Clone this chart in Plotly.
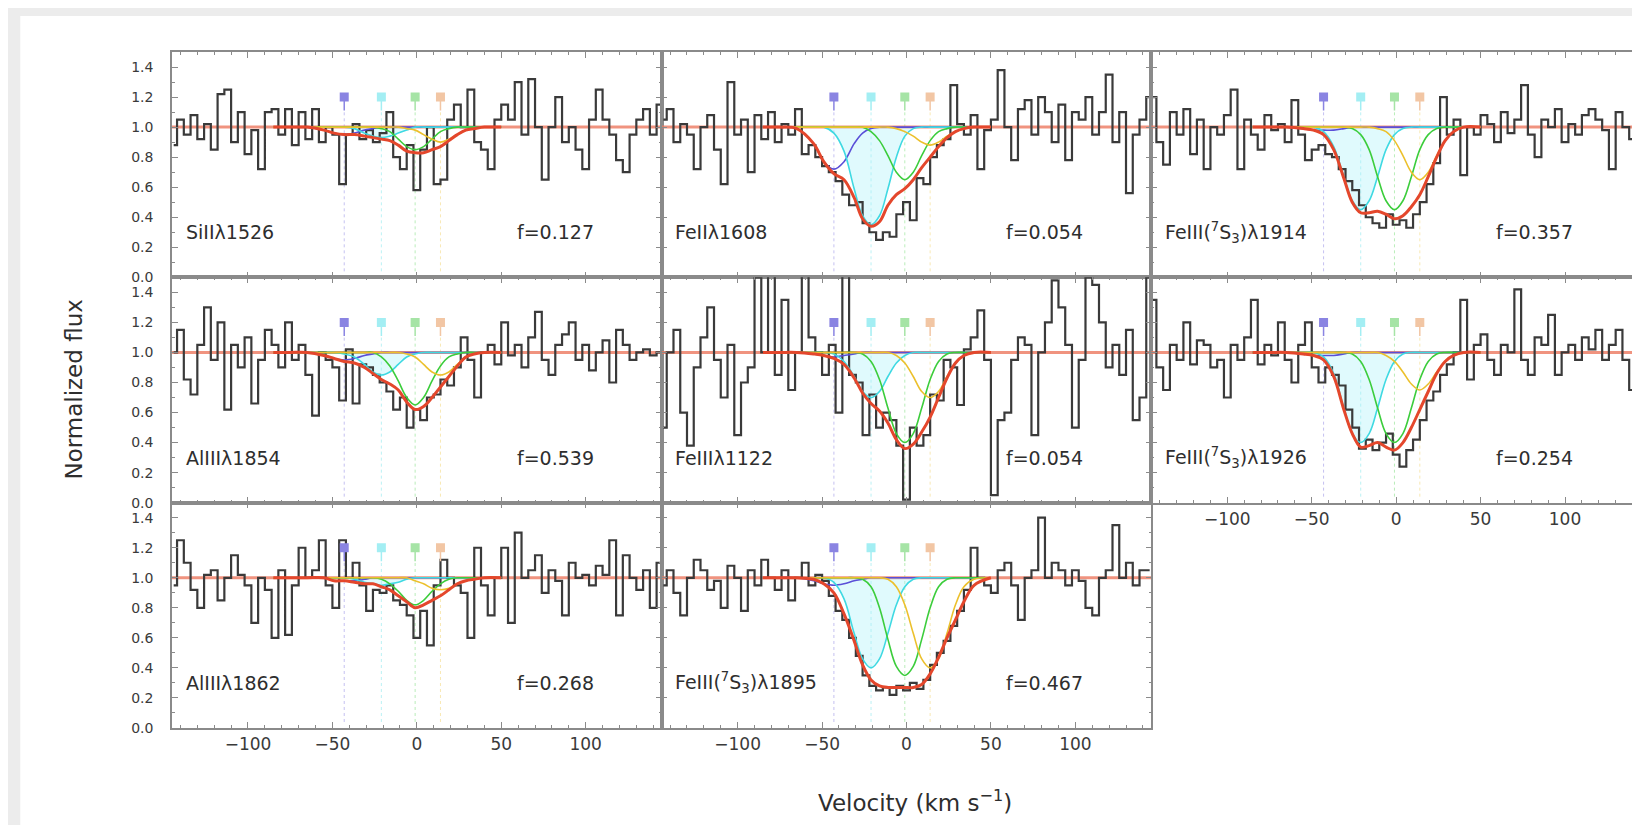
import plotly.graph_objects as go
from plotly.subplots import make_subplots

# ---------------- data ----------------
VEL = [-144, -140, -136, -132, -128, -124, -120, -116, -112, -108,
       -104, -100, -96, -92, -88, -84, -80, -76, -72, -68,
       -64, -60, -56, -52, -48, -44, -40, -36, -32, -28,
       -24, -20, -16, -12, -8, -4, 0, 4, 8, 12,
       16, 20, 24, 28, 32, 36, 40, 44, 48, 52,
       56, 60, 64, 68, 72, 76, 80, 84, 88, 92,
       96, 100, 104, 108, 112, 116, 120, 124, 128, 132,
       136, 140, 144]

MODEL_V = [-85, -75, -65, -55, -49, -43, -37, -31, -26, -21, -16, -11,
           -6, -1, 4, 9, 14, 19, 24, 29, 34, 40, 50]

COMP_V = [-43, -21, -1, 14]
MARKER_Y = 1.2
STEM_LEN = 0.09
CONT_LEVEL = 1.0

LABELS = ["SiIIλ1526", "FeIIλ1608", "FeIII(<sup>7</sup>S<sub>3</sub>)λ1914",
          "AlIIIλ1854", "FeIIIλ1122", "FeIII(<sup>7</sup>S<sub>3</sub>)λ1926",
          "AlIIIλ1862", "FeIII(<sup>7</sup>S<sub>3</sub>)λ1895"]
F_TEXT = ["f=0.127", "f=0.054", "f=0.357", "f=0.539", "f=0.054", "f=0.254",
          "f=0.268", "f=0.467"]

X_TICKS = [-100, -50, 0, 50, 100]
Y_TICKS = [0.0, 0.2, 0.4, 0.6, 0.8, 1.0, 1.2, 1.4]

# --- SiII 1526 ---
SI1526_FLUX = [0.88, 1.05, 0.95, 1.08, 0.92, 1.02, 0.85, 1.22, 1.25, 0.90,
               1.10, 0.82, 0.98, 0.72, 1.10, 1.12, 0.95, 1.12, 0.88, 1.10,
               0.92, 1.12, 0.90, 1.00, 0.95, 0.62, 0.95, 1.02, 0.92, 0.98,
               0.90, 0.96, 1.10, 0.80, 0.72, 0.88, 0.58, 0.85, 1.00, 0.62,
               0.65, 1.05, 1.15, 1.00, 1.25, 0.90, 0.85, 0.72, 1.05, 1.15,
               1.05, 1.30, 0.95, 1.32, 1.00, 0.65, 1.00, 1.20, 0.90, 1.00,
               0.85, 0.72, 1.05, 1.25, 1.05, 0.95, 0.78, 0.70, 0.95, 1.05,
               1.12, 0.95, 1.15]
SI1526_FIT = [1, 1, 1, 0.98, 0.96, 0.95, 0.95, 0.94, 0.93, 0.92, 0.91, 0.88,
              0.84, 0.83, 0.83, 0.85, 0.87, 0.91, 0.95, 0.98, 0.99, 1, 1]
SI1526_A = [1, 1, 1, 0.98, 0.96, 0.95, 0.96, 0.98, 0.99, 1, 1, 1,
            1, 1, 1, 1, 1, 1, 1, 1, 1, 1, 1]
SI1526_B = [1, 1, 1, 1, 1, 1, 0.99, 0.96, 0.94, 0.93, 0.94, 0.96,
            0.98, 1, 1, 1, 1, 1, 1, 1, 1, 1, 1]
SI1526_C = [1, 1, 1, 1, 1, 1, 1, 1, 1, 0.99, 0.97, 0.92,
            0.87, 0.85, 0.87, 0.92, 0.97, 0.99, 1, 1, 1, 1, 1]
SI1526_D = [1, 1, 1, 1, 1, 1, 1, 1, 1, 1, 1, 1,
            0.99, 0.98, 0.95, 0.92, 0.90, 0.92, 0.95, 0.98, 0.99, 1, 1]

# --- FeII 1608 ---
FE1608_FLUX = [1.05, 1.12, 0.90, 1.02, 0.95, 0.72, 1.00, 1.08, 0.85, 0.62,
               1.30, 0.95, 1.05, 0.70, 1.08, 0.92, 1.10, 0.90, 1.02, 0.95,
               1.12, 0.82, 0.88, 0.80, 0.74, 0.70, 0.64, 0.55, 0.48, 0.50,
               0.36, 0.30, 0.25, 0.30, 0.27, 0.42, 0.50, 0.38, 0.66, 0.62,
               0.80, 0.88, 0.92, 1.28, 1.02, 0.95, 1.08, 0.72, 0.98, 1.05,
               1.38, 1.00, 0.78, 1.12, 1.18, 0.95, 1.20, 1.10, 0.90, 1.15,
               0.78, 1.10, 1.05, 1.20, 0.95, 1.10, 1.35, 0.90, 1.10, 0.56,
               0.95, 1.05, 1.20]
FE1608_FIT = [1, 1, 0.99, 0.89, 0.77, 0.69, 0.65, 0.53, 0.39, 0.34, 0.37, 0.48,
              0.55, 0.59, 0.65, 0.73, 0.80, 0.87, 0.93, 0.97, 0.99, 1, 1]
FE1608_A = [1, 1, 0.99, 0.89, 0.77, 0.72, 0.77, 0.89, 0.96, 0.99, 1, 1,
            1, 1, 1, 1, 1, 1, 1, 1, 1, 1, 1]
FE1608_B = [1, 1, 1, 1, 1, 0.96, 0.84, 0.59, 0.41, 0.35, 0.41, 0.59,
            0.80, 0.94, 0.99, 1, 1, 1, 1, 1, 1, 1, 1]
FE1608_C = [1, 1, 1, 1, 1, 1, 1, 1, 1, 0.97, 0.91, 0.81,
            0.70, 0.65, 0.70, 0.81, 0.91, 0.97, 0.99, 1, 1, 1, 1]
FE1608_D = [1, 1, 1, 1, 1, 1, 1, 1, 1, 1, 1, 1,
            0.99, 0.97, 0.94, 0.90, 0.88, 0.90, 0.94, 0.97, 0.99, 1, 1]

# --- FeIII(7S3) 1914 ---
FE1914_FLUX = [1.20, 0.90, 0.75, 1.10, 0.95, 1.12, 0.82, 1.05, 0.72, 1.00,
               0.95, 1.08, 1.25, 0.72, 1.05, 0.95, 0.85, 1.08, 0.98, 1.02,
               0.90, 1.18, 0.95, 0.78, 0.85, 0.88, 0.82, 0.80, 0.72, 0.64,
               0.58, 0.48, 0.40, 0.36, 0.33, 0.42, 0.35, 0.38, 0.33, 0.42,
               0.50, 0.62, 0.76, 1.20, 0.95, 1.05, 0.68, 1.00, 0.95, 1.08,
               1.02, 0.90, 1.10, 0.96, 1.05, 1.28, 0.95, 0.80, 1.05, 1.00,
               1.12, 0.90, 1.02, 0.95, 1.08, 1.12, 1.05, 0.98, 0.72, 1.10,
               1.00, 0.92, 1.05]
FE1914_FIT = [1, 1, 1, 0.99, 0.98, 0.95, 0.85, 0.66, 0.50, 0.43, 0.43, 0.44,
              0.42, 0.39, 0.41, 0.47, 0.55, 0.67, 0.80, 0.91, 0.97, 1, 1]
FE1914_A = [1, 1, 1, 0.99, 0.98, 0.98, 0.98, 0.99, 1, 1, 1, 1,
            1, 1, 1, 1, 1, 1, 1, 1, 1, 1, 1]
FE1914_B = [1, 1, 1, 1, 1, 0.97, 0.87, 0.67, 0.51, 0.45, 0.51, 0.67,
            0.85, 0.95, 0.99, 1, 1, 1, 1, 1, 1, 1, 1]
FE1914_C = [1, 1, 1, 1, 1, 1, 1, 1, 0.99, 0.95, 0.85, 0.67,
            0.51, 0.45, 0.51, 0.67, 0.85, 0.95, 0.99, 1, 1, 1, 1]
FE1914_D = [1, 1, 1, 1, 1, 1, 1, 1, 1, 1, 1, 0.99,
            0.97, 0.91, 0.81, 0.70, 0.65, 0.70, 0.81, 0.91, 0.97, 1, 1]

# --- AlIII 1854 ---
AL1854_FLUX = [1.00, 1.15, 0.82, 0.72, 1.05, 1.30, 0.95, 1.20, 0.62, 1.05,
               0.90, 1.10, 0.66, 0.95, 1.15, 1.05, 0.90, 1.20, 0.95, 1.05,
               0.85, 0.58, 1.00, 0.95, 0.90, 0.68, 1.02, 0.66, 0.92, 0.90,
               0.85, 0.80, 0.74, 0.62, 0.70, 0.50, 0.62, 0.55, 0.70, 0.72,
               0.82, 0.78, 0.90, 1.10, 0.95, 0.70, 1.00, 1.05, 0.92, 1.20,
               0.98, 1.05, 0.90, 1.10, 1.27, 0.95, 0.85, 1.05, 1.12, 1.20,
               0.95, 1.05, 0.88, 1.00, 1.08, 0.80, 1.15, 1.05, 0.95, 1.00,
               1.02, 0.98, 1.00]
AL1854_FIT = [1, 1, 1, 0.98, 0.96, 0.94, 0.93, 0.90, 0.86, 0.82, 0.79, 0.75,
              0.67, 0.62, 0.64, 0.70, 0.77, 0.84, 0.91, 0.97, 0.99, 1, 1]
AL1854_A = [1, 1, 1, 0.98, 0.96, 0.95, 0.96, 0.98, 0.99, 1, 1, 1,
            1, 1, 1, 1, 1, 1, 1, 1, 1, 1, 1]
AL1854_B = [1, 1, 1, 1, 1, 0.99, 0.97, 0.92, 0.87, 0.85, 0.87, 0.92,
            0.97, 0.99, 1, 1, 1, 1, 1, 1, 1, 1, 1]
AL1854_C = [1, 1, 1, 1, 1, 1, 1, 1, 1, 0.97, 0.91, 0.81,
            0.70, 0.65, 0.70, 0.81, 0.91, 0.97, 0.99, 1, 1, 1, 1]
AL1854_D = [1, 1, 1, 1, 1, 1, 1, 1, 1, 1, 1, 1,
            0.99, 0.97, 0.92, 0.87, 0.85, 0.87, 0.92, 0.97, 0.99, 1, 1]

# --- FeIII 1122 ---
FE1122_FLUX = [0.50, 1.00, 1.15, 0.60, 0.38, 0.90, 1.10, 1.30, 0.95, 0.70,
               1.05, 0.45, 0.80, 0.90, 1.50, 1.00, 1.55, 0.85, 1.35, 0.75,
               1.00, 1.55, 1.10, 1.00, 0.85, 1.05, 0.60, 1.55, 0.85, 0.80,
               0.45, 0.72, 0.50, 0.60, 0.55, 0.38, 0.02, 0.50, 0.38, 0.45,
               0.72, 0.68, 0.95, 0.90, 0.65, 1.02, 1.10, 1.28, 0.95, 0.05,
               0.55, 0.60, 0.95, 1.10, 1.05, 0.45, 1.00, 1.20, 1.48, 1.30,
               1.05, 0.50, 0.95, 1.50, 1.45, 1.20, 0.90, 1.05, 0.85, 1.15,
               0.55, 0.70, 1.50]
FE1122_FIT = [1, 1, 1, 0.99, 0.98, 0.96, 0.92, 0.83, 0.73, 0.66, 0.61, 0.53,
              0.42, 0.36, 0.39, 0.47, 0.57, 0.70, 0.83, 0.93, 0.98, 1, 1]
FE1122_A = [1, 1, 1, 0.99, 0.98, 0.97, 0.98, 0.99, 1, 1, 1, 1,
            1, 1, 1, 1, 1, 1, 1, 1, 1, 1, 1]
FE1122_B = [1, 1, 1, 1, 1, 0.99, 0.94, 0.84, 0.74, 0.70, 0.74, 0.84,
            0.93, 0.98, 1, 1, 1, 1, 1, 1, 1, 1, 1]
FE1122_C = [1, 1, 1, 1, 1, 1, 1, 1, 0.99, 0.94, 0.82, 0.63,
            0.46, 0.40, 0.46, 0.63, 0.82, 0.94, 0.99, 1, 1, 1, 1]
FE1122_D = [1, 1, 1, 1, 1, 1, 1, 1, 1, 1, 1, 1,
            0.98, 0.93, 0.84, 0.74, 0.70, 0.74, 0.84, 0.93, 0.98, 1, 1]

# --- FeIII(7S3) 1926 ---
FE1926_FLUX = [1.35, 0.90, 0.75, 1.05, 0.95, 1.20, 0.92, 1.08, 1.05, 0.90,
               0.95, 0.70, 1.05, 0.95, 1.10, 1.35, 0.92, 1.05, 0.98, 1.20,
               0.95, 0.80, 1.05, 1.20, 0.90, 0.80, 0.90, 0.85, 0.78, 0.62,
               0.50, 0.36, 0.42, 0.35, 0.40, 0.46, 0.32, 0.24, 0.35, 0.42,
               0.55, 0.68, 0.74, 0.85, 0.92, 1.00, 1.35, 0.82, 1.05, 1.12,
               0.95, 0.85, 1.05, 1.00, 1.42, 0.95, 0.85, 1.10, 1.05, 1.25,
               0.85, 1.00, 1.05, 0.95, 1.10, 1.02, 1.15, 0.95, 1.05, 1.15,
               0.95, 0.75, 1.20]
FE1926_FIT = [1, 1, 1, 0.99, 0.98, 0.95, 0.84, 0.62, 0.46, 0.37, 0.38, 0.40,
              0.37, 0.35, 0.40, 0.50, 0.62, 0.74, 0.86, 0.94, 0.98, 1, 1]
FE1926_A = [1, 1, 1, 0.99, 0.98, 0.98, 0.98, 0.99, 1, 1, 1, 1,
            1, 1, 1, 1, 1, 1, 1, 1, 1, 1, 1]
FE1926_B = [1, 1, 1, 1, 1, 0.97, 0.86, 0.63, 0.46, 0.40, 0.46, 0.63,
            0.82, 0.94, 0.99, 1, 1, 1, 1, 1, 1, 1, 1]
FE1926_C = [1, 1, 1, 1, 1, 1, 1, 1, 0.99, 0.94, 0.82, 0.63,
            0.46, 0.40, 0.46, 0.63, 0.82, 0.94, 0.99, 1, 1, 1, 1]
FE1926_D = [1, 1, 1, 1, 1, 1, 1, 1, 1, 1, 1, 1,
            0.98, 0.94, 0.87, 0.79, 0.75, 0.79, 0.87, 0.94, 0.98, 1, 1]

# --- AlIII 1862 ---
AL1862_FLUX = [0.95, 1.25, 1.10, 0.92, 0.80, 1.02, 1.05, 0.85, 1.00, 1.15,
               1.02, 0.95, 0.70, 1.00, 0.92, 0.60, 1.05, 0.62, 0.95, 1.20,
               1.00, 1.05, 1.25, 0.95, 0.80, 1.25, 1.00, 1.10, 0.95, 0.78,
               0.92, 0.90, 0.95, 0.85, 0.82, 0.75, 0.60, 0.78, 0.55, 0.95,
               1.12, 1.00, 0.95, 0.90, 0.60, 1.20, 0.95, 0.75, 1.00, 1.20,
               0.70, 1.30, 1.00, 1.05, 1.15, 0.90, 1.05, 0.98, 0.75, 1.10,
               1.00, 1.02, 0.95, 1.08, 1.02, 1.25, 0.75, 1.15, 1.00, 0.92,
               1.05, 0.80, 1.10]
AL1862_FIT = [1, 1, 1, 1, 0.98, 0.98, 0.97, 0.96, 0.96, 0.94, 0.92, 0.88,
              0.84, 0.80, 0.82, 0.85, 0.88, 0.92, 0.96, 0.98, 0.99, 1, 1]
AL1862_A = [1, 1, 1, 1, 0.98, 0.98, 0.98, 0.99, 1, 1, 1, 1,
            1, 1, 1, 1, 1, 1, 1, 1, 1, 1, 1]
AL1862_B = [1, 1, 1, 1, 1, 1, 0.99, 0.97, 0.96, 0.95, 0.96, 0.97,
            0.99, 1, 1, 1, 1, 1, 1, 1, 1, 1, 1]
AL1862_C = [1, 1, 1, 1, 1, 1, 1, 1, 1, 0.99, 0.96, 0.91,
            0.85, 0.82, 0.85, 0.91, 0.96, 0.99, 1, 1, 1, 1, 1]
AL1862_D = [1, 1, 1, 1, 1, 1, 1, 1, 1, 1, 1, 1,
            1, 0.98, 0.96, 0.93, 0.92, 0.93, 0.96, 0.98, 0.99, 1, 1]

# --- FeIII(7S3) 1895 ---
FE1895_FLUX = [0.95, 1.05, 0.90, 0.75, 1.00, 1.12, 1.05, 0.92, 0.98, 0.80,
               1.08, 1.00, 0.78, 1.05, 0.95, 1.12, 1.00, 0.92, 1.05, 0.85,
               1.00, 1.10, 0.95, 1.02, 0.98, 0.88, 0.78, 0.72, 0.60, 0.48,
               0.35, 0.28, 0.25, 0.27, 0.22, 0.28, 0.25, 0.30, 0.26, 0.32,
               0.42, 0.50, 0.58, 0.68, 0.78, 0.92, 1.20, 1.00, 0.95, 0.90,
               1.05, 1.10, 0.95, 0.72, 1.00, 1.05, 1.40, 1.00, 1.10, 1.05,
               0.95, 1.05, 0.98, 0.80, 0.75, 1.00, 1.05, 1.35, 1.00, 1.10,
               0.95, 1.05, 1.05]
FE1895_FIT = [1, 1, 1, 0.99, 0.96, 0.90, 0.76, 0.58, 0.42, 0.32, 0.28, 0.27,
              0.27, 0.27, 0.27, 0.29, 0.36, 0.47, 0.60, 0.72, 0.84, 0.95, 1]
FE1895_A = [1, 1, 1, 0.98, 0.96, 0.95, 0.96, 0.98, 0.99, 1, 1, 1,
            1, 1, 1, 1, 1, 1, 1, 1, 1, 1, 1]
FE1895_B = [1, 1, 1, 1, 1, 0.97, 0.86, 0.63, 0.46, 0.40, 0.46, 0.63,
            0.82, 0.94, 0.99, 1, 1, 1, 1, 1, 1, 1, 1]
FE1895_C = [1, 1, 1, 1, 1, 1, 1, 1, 0.99, 0.94, 0.80, 0.59,
            0.41, 0.35, 0.41, 0.59, 0.80, 0.94, 0.99, 1, 1, 1, 1]
FE1895_D = [1, 1, 1, 1, 1, 1, 1, 1, 1, 1, 1, 0.99,
            0.94, 0.82, 0.63, 0.46, 0.40, 0.46, 0.63, 0.82, 0.94, 0.99, 1]

PANELS = [
    (SI1526_FLUX, SI1526_FIT, SI1526_A, SI1526_B, SI1526_C, SI1526_D),
    (FE1608_FLUX, FE1608_FIT, FE1608_A, FE1608_B, FE1608_C, FE1608_D),
    (FE1914_FLUX, FE1914_FIT, FE1914_A, FE1914_B, FE1914_C, FE1914_D),
    (AL1854_FLUX, AL1854_FIT, AL1854_A, AL1854_B, AL1854_C, AL1854_D),
    (FE1122_FLUX, FE1122_FIT, FE1122_A, FE1122_B, FE1122_C, FE1122_D),
    (FE1926_FLUX, FE1926_FIT, FE1926_A, FE1926_B, FE1926_C, FE1926_D),
    (AL1862_FLUX, AL1862_FIT, AL1862_A, AL1862_B, AL1862_C, AL1862_D),
    (FE1895_FLUX, FE1895_FIT, FE1895_A, FE1895_B, FE1895_C, FE1895_D),
]
POS = [(1, 1), (1, 2), (1, 3), (2, 1), (2, 2), (2, 3), (3, 1), (3, 2)]

# ---------------- style ----------------
FONT = "DejaVu Sans, Liberation Sans, Arial, sans-serif"
TEXT_COLOR = "#2e2e2e"
DATA_COLOR = "#3a3a3a"
FIT_COLOR = "#e4472c"
CONT_COLOR = "rgba(236,120,95,0.8)"
COMP_COLORS = ["#5a4fd8", "#3fd9e2", "#3ccd3c", "#ecc02c"]
MARK_COLORS = ["#8a84e2", "#a3eef3", "#a6e4a6", "#f2c6a4"]
CYAN_FILL = "rgba(165,242,248,0.35)"
AXIS_COLOR = "#8a8a8a"

fig = make_subplots(rows=3, cols=3, horizontal_spacing=0, vertical_spacing=0)

for k, (r, c) in enumerate(POS):
    flux, fit, ca, cb, cc, cd = PANELS[k]
    # continuum level across the whole panel
    fig.add_trace(go.Scatter(x=[VEL[0] - 2, VEL[-1] + 2],
                             y=[CONT_LEVEL, CONT_LEVEL], mode="lines",
                             line=dict(color=CONT_COLOR, width=3),
                             hoverinfo="skip"), row=r, col=c)
    # cyan shading inside the main component
    fig.add_trace(go.Scatter(x=MODEL_V, y=cb, mode="lines", fill="toself",
                             fillcolor=CYAN_FILL, line=dict(width=0),
                             hoverinfo="skip"), row=r, col=c)
    # observed spectrum
    fig.add_trace(go.Scatter(x=VEL, y=flux, mode="lines",
                             line=dict(color=DATA_COLOR, width=2.2, shape="hvh")),
                  row=r, col=c)
    # individual components
    for prof, col in zip([ca, cb, cc, cd], COMP_COLORS):
        fig.add_trace(go.Scatter(x=MODEL_V, y=prof, mode="lines",
                                 line=dict(color=col, width=1.6, shape="spline")),
                      row=r, col=c)
    # total fit
    fig.add_trace(go.Scatter(x=MODEL_V, y=fit, mode="lines",
                             line=dict(color=FIT_COLOR, width=3, shape="spline")),
                  row=r, col=c)
    # component markers
    for v, col in zip(COMP_V, MARK_COLORS):
        fig.add_trace(go.Scatter(
            x=[v], y=[MARKER_Y], mode="markers",
            marker=dict(symbol="square", size=9, color=col),
            error_y=dict(type="data", symmetric=False, array=[0],
                         arrayminus=[STEM_LEN], color=col, thickness=1.5, width=0)),
            row=r, col=c)
    # component velocity guides
    for v, col in zip(COMP_V, COMP_COLORS):
        fig.add_shape(type="line", x0=v, x1=v, y0=0.04, y1=1.1,
                      line=dict(color=col, width=1, dash="dot"), opacity=0.35,
                      layer="below", row=r, col=c)
    # labels
    fig.add_annotation(x=-138, y=0.3, text=LABELS[k], showarrow=False,
                       xanchor="left", yanchor="middle",
                       font=dict(family=FONT, size=19, color=TEXT_COLOR),
                       row=r, col=c)
    fig.add_annotation(x=82, y=0.3, text=F_TEXT[k], showarrow=False,
                       xanchor="center", yanchor="middle",
                       font=dict(family=FONT, size=19, color=TEXT_COLOR),
                       row=r, col=c)

# axes
for r in range(1, 4):
    for c in range(1, 4):
        if (r, c) == (3, 3):
            fig.update_xaxes(visible=False, row=r, col=c)
            fig.update_yaxes(visible=False, row=r, col=c)
            continue
        show_x = (r, c) in [(3, 1), (3, 2), (2, 3)]
        fig.update_xaxes(range=[-145, 145], tickvals=X_TICKS, ticks="inside",
                         ticklen=6, tickcolor=AXIS_COLOR, showline=True,
                         linecolor=AXIS_COLOR, linewidth=1.5, mirror="allticks",
                         showgrid=False, zeroline=False, showticklabels=show_x,
                         ticklabelstandoff=0,
                         tickfont=dict(family=FONT, size=17, color="#3a3a3a"),
                         minor=dict(dtick=10, ticks="inside", ticklen=3,
                                    tickcolor=AXIS_COLOR),
                         row=r, col=c)
        fig.update_yaxes(range=[0, 1.5], tickvals=Y_TICKS, tickformat=".1f",
                         ticks="inside", ticklen=6, tickcolor=AXIS_COLOR,
                         showline=True, linecolor=AXIS_COLOR, linewidth=1.5,
                         mirror="allticks", showgrid=False, zeroline=False,
                         showticklabels=(c == 1), ticklabelstandoff=14,
                         tickfont=dict(family=FONT, size=14, color="#3a3a3a"),
                         minor=dict(dtick=0.1, ticks="inside", ticklen=3,
                                    tickcolor=AXIS_COLOR),
                         row=r, col=c)

# axis titles
fig.add_annotation(xref="paper", yref="paper", x=-0.067, y=0.5,
                   xanchor="center", yanchor="middle",
                   text="Normalized flux", textangle=-90, showarrow=False,
                   font=dict(family=FONT, size=23, color=TEXT_COLOR))
fig.add_annotation(xref="paper", yref="paper", x=0.506, y=-0.108,
                   xanchor="center", yanchor="middle",
                   text="Velocity (km s<sup>−1</sup>)", showarrow=False,
                   font=dict(family=FONT, size=23, color=TEXT_COLOR))

# light frame around the figure
fig.add_shape(type="rect", xref="paper", yref="paper",
              x0=-0.1033, x1=1.01, y0=-0.16, y1=1.0533,
              fillcolor="white", line=dict(width=0), layer="below")

fig.update_layout(width=1640, height=825, showlegend=False,
                  paper_bgcolor="#ececec", plot_bgcolor="white",
                  margin=dict(l=164, r=5, t=44, b=105),
                  hovermode=False)

fig.write_html("out.html")
